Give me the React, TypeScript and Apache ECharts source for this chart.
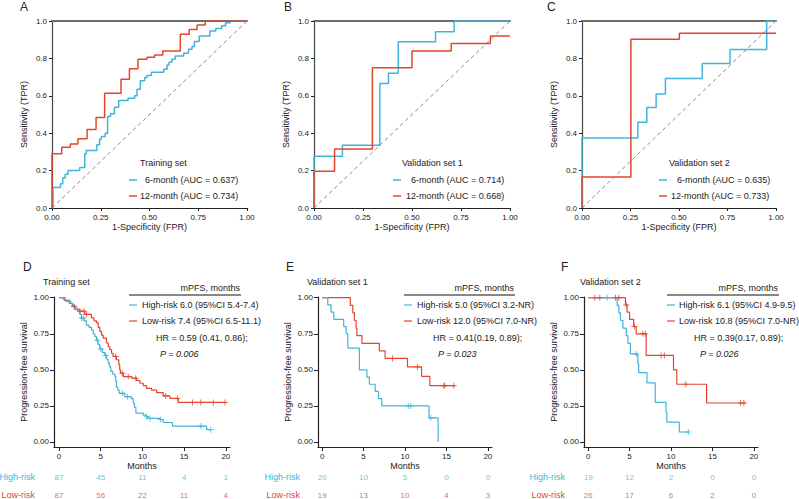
import React, { useEffect, useRef } from "react";
import * as echarts from "echarts";

const CYAN = "#41B5D9";
const RED = "#E4452F";
const FONT = "'Liberation Sans', Arial, Helvetica, sans-serif";
const INK = "#222222";

// ---------- ROC data: vertices [FPR, TPR] (move right, then up) ----------
const rocXTicks = [0, 0.25, 0.5, 0.75, 1];
const rocYTicks = [0, 0.2, 0.4, 0.6, 0.8, 1];

const rocTrain6 = [
  [0, 0], [0.005, 0.11], [0.043, 0.13], [0.055, 0.16], [0.068, 0.18], [0.082, 0.2],
  [0.142, 0.217], [0.168, 0.29], [0.176, 0.308], [0.23, 0.338], [0.244, 0.368],
  [0.253, 0.383], [0.273, 0.4], [0.285, 0.489], [0.3, 0.504], [0.32, 0.539],
  [0.342, 0.575], [0.39, 0.587], [0.424, 0.6], [0.436, 0.635], [0.453, 0.68],
  [0.475, 0.698], [0.487, 0.708], [0.51, 0.726], [0.573, 0.742], [0.59, 0.765],
  [0.6, 0.78], [0.615, 0.795], [0.632, 0.813], [0.675, 0.827], [0.7, 0.849],
  [0.718, 0.863], [0.73, 0.89], [0.755, 0.92], [0.81, 0.947], [0.84, 0.96],
  [0.87, 0.975], [0.89, 0.99], [0.914, 1], [1, 1],
];
const rocTrain12 = [
  [0, 0], [0, 0.29], [0.05, 0.325], [0.094, 0.342], [0.133, 0.37], [0.18, 0.42],
  [0.226, 0.484], [0.27, 0.614], [0.354, 0.689], [0.397, 0.744], [0.441, 0.795],
  [0.487, 0.806], [0.526, 0.818], [0.568, 0.84], [0.658, 0.929], [0.704, 0.955],
  [0.744, 0.979], [0.786, 1], [1, 1],
];
const rocVal1_6 = [
  [0, 0], [0, 0.277], [0.145, 0.336], [0.336, 0.666], [0.38, 0.72], [0.43, 0.889],
  [0.62, 0.943], [0.715, 1], [1, 1],
];
const rocVal1_12 = [
  [0, 0], [0, 0.196], [0.105, 0.316], [0.298, 0.75], [0.5, 0.839], [0.7, 0.88],
  [0.9, 0.92], [1, 0.92],
];
const rocVal2_6 = [
  [0, 0], [0, 0.375], [0.288, 0.459], [0.334, 0.5375], [0.382, 0.609], [0.43, 0.693],
  [0.62, 0.773], [0.763, 0.848], [0.952, 1], [1, 1],
];
const rocVal2_12 = [
  [0, 0], [0, 0.166], [0.252, 0.902], [0.502, 0.934], [1, 0.934],
];

const rocTitles = ["Training set", "Validation set 1", "Validation set 2"];
const roc6Labels = ["6-month (AUC = 0.637)", "6-month (AUC = 0.714)", "6-month (AUC = 0.635)"];
const roc12Labels = ["12-month (AUC = 0.734)", "12-month (AUC = 0.668)", "12-month (AUC = 0.733)"];

// ---------- Kaplan-Meier data: [month, survival after drop] ----------
const kmXTicks = [0, 5, 10, 15, 20];
const kmYTicks = [0, 0.25, 0.5, 0.75, 1];

const trainHigh = [
  [0, 1], [0.5, 0.989], [0.88, 0.975], [1.3, 0.963], [1.6, 0.95], [1.88, 0.93],
  [2.2, 0.91], [2.5, 0.885], [2.69, 0.86], [3.0, 0.84], [3.29, 0.81], [3.6, 0.795],
  [3.89, 0.775], [4.1, 0.75], [4.3, 0.73], [4.49, 0.705], [4.69, 0.675], [4.89, 0.645],
  [5.2, 0.62], [5.49, 0.6], [5.7, 0.575], [5.89, 0.547], [6.05, 0.52], [6.21, 0.49],
  [6.45, 0.47], [6.69, 0.455], [6.8, 0.42], [6.89, 0.38], [7.05, 0.36], [7.21, 0.337],
  [7.9, 0.314], [8.7, 0.3], [8.9, 0.27], [9.05, 0.24], [9.22, 0.2], [10.1, 0.186],
  [10.5, 0.174], [10.7, 0.163], [12.1, 0.155], [12.5, 0.135], [13.6, 0.11],
  [17.7, 0.085], [18.2, 0.085],
];
const trainLow = [
  [0, 1], [0.7, 0.98], [1.28, 0.96], [1.6, 0.94], [1.88, 0.92], [2.48, 0.907],
  [3.09, 0.884], [3.89, 0.86], [4.2, 0.84], [4.49, 0.826], [4.7, 0.795], [4.89, 0.767],
  [5.1, 0.74], [5.29, 0.72], [5.69, 0.686], [5.9, 0.66], [6.09, 0.64], [6.3, 0.615],
  [6.49, 0.593], [6.89, 0.57], [7.17, 0.535], [7.28, 0.5], [7.37, 0.477], [7.7, 0.453],
  [8.7, 0.442], [9.3, 0.426], [9.7, 0.407], [10.1, 0.39], [10.5, 0.372], [11.1, 0.36],
  [11.7, 0.342], [12.5, 0.319], [13.3, 0.302], [14.3, 0.274], [20, 0.274],
];
const trainHighCens = [1.2, 2.7, 2.9, 4.6, 5.0, 5.6, 7.6, 8.2, 10.5, 10.9, 12.2, 17.0, 18.2];
const trainLowCens = [1.8, 2.5, 3.0, 3.3, 6.8, 7.6, 8.3, 9.2, 12.8, 14.2, 16.0, 17.0, 18.5, 19.9];

const val1High = [
  [0, 1], [0.68, 0.95], [1.08, 0.9], [1.4, 0.85], [2.6, 0.8], [2.9, 0.75], [3.1, 0.65],
  [4.5, 0.5], [5.4, 0.45], [5.7, 0.4], [6.4, 0.35], [6.8, 0.3], [7.2, 0.25],
  [12.9, 0.167], [14.0, 0],
];
const val1Low = [
  [0, 1], [3.4, 0.947], [3.7, 0.895], [3.9, 0.842], [4.1, 0.789], [4.2, 0.737],
  [4.8, 0.684], [6.9, 0.632], [7.6, 0.579], [10.3, 0.52], [12.0, 0.455], [13.0, 0.39],
  [16.0, 0.39],
];
const val1HighCens = [10.4, 10.7, 13.1];
const val1LowCens = [8.5, 11.5, 14.7, 14.8, 15.9];

const val2High = [
  [0, 1], [3.5, 0.947], [3.7, 0.895], [3.9, 0.842], [4.2, 0.789], [4.6, 0.737],
  [4.8, 0.684], [5.1, 0.61], [6.0, 0.54], [6.1, 0.48], [7.1, 0.41], [8.1, 0.275],
  [9.4, 0.206], [9.5, 0.137], [11.0, 0.069], [12.1, 0.069],
];
const val2Low = [
  [0, 1], [4.5, 0.95], [4.7, 0.9], [5.0, 0.85], [5.5, 0.8], [5.8, 0.75], [7.0, 0.6],
  [10.3, 0.5], [10.7, 0.4], [14.3, 0.27], [19.0, 0.27],
];
const val2HighCens = [2.3, 5.8, 12.1];
const val2LowCens = [0.8, 1.4, 3.3, 3.7, 4.6, 5.6, 6.6, 6.9, 8.8, 9.2, 11.8, 18.4, 18.8];

const kmTitles = ["Training set", "Validation set 1", "Validation set 2"];
const kmHighLabels = [
  "High-risk 6.0 (95%CI 5.4-7.4)",
  "High-risk 5.0 (95%CI 3.2-NR)",
  "High-risk 6.1 (95%CI 4.9-9.5)",
];
const kmLowLabels = [
  "Low-risk 7.4 (95%CI 6.5-11.1)",
  "Low-risk 12.0 (95%CI 7.0-NR)",
  "Low-risk 10.8 (95%CI 7.0-NR)",
];
const kmHR = ["HR = 0.59 (0.41, 0.86);", "HR = 0.41(0.19, 0.89);", "HR = 0.39(0.17, 0.89);"];
const kmP = ["P = 0.006", "P = 0.023", "P = 0.026"];

// ---------- number at risk ----------
const riskGroups = ["High-risk", "Low-risk"];
const riskTimes = [0, 5, 10, 15, 20];
const trainHighRisk = [87, 45, 11, 4, 1];
const trainLowRisk = [87, 56, 22, 11, 4];
const val1HighRisk = [20, 10, 5, 0, 0];
const val1LowRisk = [19, 13, 10, 4, 3];
const val2HighRisk = [19, 12, 2, 0, 0];
const val2LowRisk = [26, 17, 6, 2, 0];

const panelLetters = ["A", "B", "C", "D", "E", "F"];

// ---------- layout ----------
const rocLayout = [
  { left: 52, width: 195, titleX: 140, segX: 129, t6X: 145, t12X: 140 },
  { left: 314, width: 196, titleX: 402, segX: 393, t6X: 411, t12X: 406 },
  { left: 582, width: 194, titleX: 669, segX: 659, t6X: 677, t12X: 671 },
];
const kmLayout = [
  { left: 54, width: 176, min: -0.6, lineX1: 129, lineX2: 241, textX: 142, hrX: 156, pX: 160, titleX: 43, labelMargin: 19 },
  { left: 318, width: 174, min: -0.5, lineX1: 404, lineX2: 515, textX: 417, hrX: 433, pX: 438, titleX: 307, labelMargin: 18 },
  { left: 584, width: 174, min: -0.5, lineX1: 667, lineX2: 779, textX: 679, hrX: 694, pX: 700, titleX: 580, labelMargin: 19 },
];
const letterPos = [
  [20, 7], [284, 7], [547, 7], [23, 267], [286, 267], [561, 267],
];

const CROSS = "path://M2.5,0H3.5V2.5H6V3.5H3.5V6H2.5V3.5H0V2.5H2.5Z";

function survAt(curve: number[][], t: number) {
  let s = 1;
  for (const [ti, si] of curve) if (ti <= t) s = si;
  return s;
}

function txt(text: string, x: number, y: number, extra: any = {}) {
  return {
    type: "text",
    x,
    y,
    silent: true,
    z: 100,
    style: {
      text,
      fontSize: 9,
      fontFamily: FONT,
      fill: INK,
      textAlign: "left",
      textVerticalAlign: "middle",
      ...extra,
    },
  };
}
function hline(x1: number, x2: number, y: number, color: string, w = 1) {
  return {
    type: "line",
    silent: true,
    z: 100,
    shape: { x1, y1: y, x2, y2: y },
    style: { stroke: color, lineWidth: w },
  };
}

function buildOption() {
  const grids: any[] = [];
  const xAxes: any[] = [];
  const yAxes: any[] = [];
  const series: any[] = [];
  const graphic: any[] = [];

  const rocSets = [
    [rocTrain6, rocTrain12],
    [rocVal1_6, rocVal1_12],
    [rocVal2_6, rocVal2_12],
  ];
  const kmSets = [
    [trainHigh, trainLow, trainHighCens, trainLowCens, trainHighRisk, trainLowRisk],
    [val1High, val1Low, val1HighCens, val1LowCens, val1HighRisk, val1LowRisk],
    [val2High, val2Low, val2HighCens, val2LowCens, val2HighRisk, val2LowRisk],
  ];

  // ROC grids 0..2
  rocLayout.forEach((L, i) => {
    grids.push({ left: L.left, top: 21, width: L.width, height: 187, outerBoundsMode: "none" });
    xAxes.push({
      gridIndex: i,
      type: "value",
      min: 0,
      max: 1,
      axisLabel: {
        customValues: rocXTicks,
        formatter: (v: number) => v.toFixed(2),
        fontSize: 8,
        color: INK,
        margin: 5,
        fontFamily: FONT,
      },
      axisTick: { customValues: rocXTicks, length: 3, lineStyle: { color: INK } },
      axisLine: { lineStyle: { color: INK, width: 1 } },
      splitLine: { show: false },
      name: "1-Specificity (FPR)",
      nameLocation: "middle",
      nameGap: 14,
      nameTextStyle: { fontSize: 9, color: INK, fontFamily: FONT },
    });
    yAxes.push({
      gridIndex: i,
      type: "value",
      min: 0,
      max: 1,
      axisLabel: {
        customValues: rocYTicks,
        formatter: (v: number) => v.toFixed(1),
        fontSize: 8,
        color: INK,
        margin: 5,
        fontFamily: FONT,
      },
      axisTick: { customValues: rocYTicks, length: 3, lineStyle: { color: INK } },
      axisLine: { show: true, lineStyle: { color: "#444", width: 1.2 } },
      splitLine: { show: false },
      name: "Sensitivity (TPR)",
      nameLocation: "middle",
      nameGap: 24,
      nameTextStyle: { fontSize: 9, color: INK, fontFamily: FONT },
    });
  });
  // top border axes for ROC (xAxis 3..5)
  rocLayout.forEach((_, i) => {
    xAxes.push({
      gridIndex: i,
      type: "value",
      position: "top",
      min: 0,
      max: 1,
      axisLine: { show: true, onZero: false, lineStyle: { color: "#6e6e6e", width: 2 } },
      axisTick: { show: false },
      axisLabel: { show: false },
      splitLine: { show: false },
    });
  });
  // KM grids 3..5 (xAxis 6..8, yAxis 3..5)
  kmLayout.forEach((L, j) => {
    grids.push({ left: L.left, top: 297, width: L.width, height: 150, outerBoundsMode: "none" });
    xAxes.push({
      gridIndex: 3 + j,
      type: "value",
      min: L.min,
      max: 20.5,
      axisLabel: {
        customValues: kmXTicks,
        fontSize: 8,
        color: INK,
        margin: 5,
        fontFamily: FONT,
      },
      axisTick: { customValues: kmXTicks, length: 4, lineStyle: { color: INK } },
      axisLine: { onZero: false, lineStyle: { color: INK, width: 1.2 } },
      splitLine: { show: false },
      name: "Months",
      nameLocation: "middle",
      nameGap: 14,
      nameTextStyle: { fontSize: 9, color: INK, fontFamily: FONT },
    });
    yAxes.push({
      gridIndex: 3 + j,
      type: "value",
      min: -0.035,
      max: 1.005,
      axisLabel: {
        customValues: kmYTicks,
        formatter: (v: number) => v.toFixed(2),
        fontSize: 8,
        color: INK,
        margin: 5,
        fontFamily: FONT,
      },
      axisTick: { customValues: kmYTicks, length: 4, lineStyle: { color: INK } },
      axisLine: { show: true, onZero: false, lineStyle: { color: INK, width: 1.2 } },
      splitLine: { show: false },
      name: "Progression-free survival",
      nameLocation: "middle",
      nameGap: 26,
      nameTextStyle: { fontSize: 9, color: INK, fontFamily: FONT },
    });
  });
  // Risk table grids 6..8 (xAxis 9..11, yAxis 6..8)
  kmLayout.forEach((L, j) => {
    grids.push({ left: L.left, top: 468, width: L.width, height: 36, outerBoundsMode: "none" });
    xAxes.push({
      gridIndex: 6 + j,
      type: "value",
      min: L.min,
      max: 20.5,
      show: false,
      splitLine: { show: false },
    });
    yAxes.push({
      gridIndex: 6 + j,
      type: "category",
      data: riskGroups,
      inverse: true,
      axisLine: { show: false },
      axisTick: { show: false },
      splitLine: { show: false },
      axisLabel: {
        fontSize: 9,
        margin: L.labelMargin,
        fontFamily: FONT,
        color: (v: string) => (v === "High-risk" ? CYAN : RED),
      },
    });
  });

  // ROC series
  rocSets.forEach(([c6, c12], i) => {
    series.push({
      type: "line",
      xAxisIndex: i,
      yAxisIndex: i,
      data: [[0, 0], [1, 1]],
      symbol: "none",
      silent: true,
      lineStyle: { color: "#8c8c8c", width: 1, type: [4, 3] },
      z: 1,
    });
    series.push({
      type: "line",
      xAxisIndex: i,
      yAxisIndex: i,
      data: c6,
      step: "end",
      symbol: "none",
      silent: true,
      lineStyle: { color: CYAN, width: 1.5 },
      z: 2,
    });
    series.push({
      type: "line",
      xAxisIndex: i,
      yAxisIndex: i,
      data: c12,
      step: "end",
      symbol: "none",
      silent: true,
      lineStyle: { color: RED, width: 1.5 },
      z: 3,
    });
  });

  // KM series
  kmSets.forEach(([hi, lo, hiC, loC, hiR, loR]: any, j) => {
    const xi = 6 + j;
    const yi = 3 + j;
    series.push({
      type: "line", xAxisIndex: xi, yAxisIndex: yi, data: lo, step: "end",
      symbol: "none", silent: true, lineStyle: { color: RED, width: 1.2 }, z: 2,
    });
    series.push({
      type: "line", xAxisIndex: xi, yAxisIndex: yi, data: hi, step: "end",
      symbol: "none", silent: true, lineStyle: { color: CYAN, width: 1.2 }, z: 3,
    });
    series.push({
      type: "scatter", xAxisIndex: xi, yAxisIndex: yi,
      data: (loC as number[]).map((t) => [t, survAt(lo, t)]),
      symbol: CROSS, symbolSize: 6, silent: true, itemStyle: { color: RED }, z: 4,
    });
    series.push({
      type: "scatter", xAxisIndex: xi, yAxisIndex: yi,
      data: (hiC as number[]).map((t) => [t, survAt(hi, t)]),
      symbol: CROSS, symbolSize: 6, silent: true, itemStyle: { color: CYAN }, z: 5,
    });
    // risk table
    const ti = 9 + j;
    const tyi = 6 + j;
    [[hiR, 0, CYAN], [loR, 1, RED]].forEach(([vals, row, col]: any) => {
      series.push({
        type: "scatter",
        xAxisIndex: ti,
        yAxisIndex: tyi,
        data: riskTimes.map((t, k) => [t, row, vals[k]]),
        symbolSize: 0,
        silent: true,
        itemStyle: { color: "transparent" },
        label: {
          show: true,
          position: "inside",
          formatter: (p: any) => String(p.value[2]),
          fontSize: 8,
          color: col,
          fontFamily: FONT,
        },
      });
    });
  });

  // graphic: letters
  panelLetters.forEach((l, k) => {
    graphic.push(txt(l, letterPos[k][0], letterPos[k][1], { fontSize: 12 }));
  });
  // ROC legends
  rocLayout.forEach((L, i) => {
    graphic.push(txt(rocTitles[i], L.titleX, 163));
    graphic.push(hline(L.segX, L.segX + 8, 180, CYAN, 1.5));
    graphic.push(txt(roc6Labels[i], L.t6X, 180));
    graphic.push(hline(L.segX, L.segX + 8, 196, RED, 1.5));
    graphic.push(txt(roc12Labels[i], L.t12X, 196));
  });
  // KM legends
  kmLayout.forEach((L, j) => {
    graphic.push(txt(kmTitles[j], L.titleX, 282));
    graphic.push(txt("mPFS, months", L.lineX2 - 1, 288, { textAlign: "right" }));
    graphic.push(hline(L.lineX1, L.lineX2, 295, "#111", 1));
    graphic.push(hline(L.lineX1, L.lineX1 + 8, 305, CYAN, 1.2));
    graphic.push(txt(kmHighLabels[j], L.textX, 305));
    graphic.push(hline(L.lineX1, L.lineX1 + 8, 321, RED, 1.2));
    graphic.push(txt(kmLowLabels[j], L.textX, 321));
    graphic.push(txt(kmHR[j], L.hrX, 338));
    graphic.push(txt(kmP[j], L.pX, 354, { fontStyle: "italic" }));
  });

  return {
    animation: false,
    backgroundColor: "#ffffff",
    textStyle: { fontFamily: FONT },
    grid: grids,
    xAxis: xAxes,
    yAxis: yAxes,
    series,
    graphic,
  };
}

export default function App() {
  const ref = useRef<HTMLDivElement>(null);
  useEffect(() => {
    if (!ref.current) return;
    const chart = echarts.init(ref.current, undefined, { renderer: "svg" });
    chart.setOption(buildOption() as any);
    return () => chart.dispose();
  }, []);
  return (
    <div
      ref={ref}
      style={{ position: "fixed", left: 0, top: 0, width: 799, height: 499, background: "#fff" }}
    />
  );
}
